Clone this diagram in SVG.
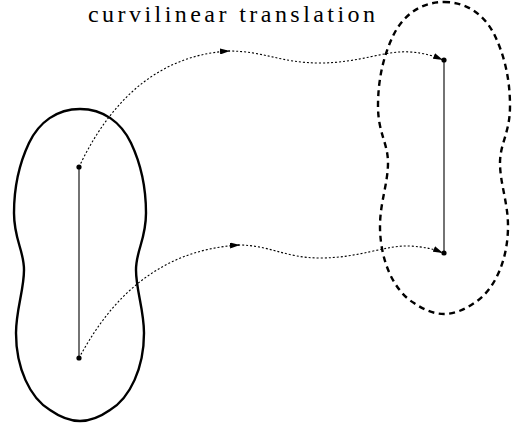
<svg xmlns="http://www.w3.org/2000/svg" width="513" height="427" viewBox="0 0 513 427">
<style>
.blob{fill:none;stroke:#000;stroke-width:2.4}
.dashed{stroke-dasharray:6 4.5}
.seg{stroke:#000;stroke-width:1.1}
.dot{fill:#000}
.conn{fill:none;stroke:#000;stroke-width:1.1;stroke-dasharray:2 2}
.title{font-family:"Liberation Serif","DejaVu Serif",serif;fill:#000}
</style>
<defs>
<marker id="arr" viewBox="0 0 10 6" refX="10" refY="3" markerWidth="10" markerHeight="6" markerUnits="userSpaceOnUse" orient="auto">
<path d="M0,0 L10,3 L0,6 Z" fill="#000"/>
</marker>
<path id="shape" d="M80,109 C103,109 121,122 131,143 C140,162 146,185 146,213 C146,240 136,250 136,270 C136,290 144,310 144,333 C144,368 130,398 110,410 C100,417 90,421 80,421 C70,421 60,417 50,410 C30,398 16,368 16,333 C16,310 24,290 24,270 C24,250 14,240 14,213 C14,185 20,162 29,143 C39,122 57,109 80,109 Z"/>
</defs>
<text class="title" x="88" y="21.5" font-size="24" textLength="287" lengthAdjust="spacing">curvilinear translation</text>
<g id="source">
<use href="#shape" class="blob"/>
<line class="seg" x1="79" y1="167" x2="79" y2="358"/>
<circle class="dot" cx="79" cy="167" r="2.6"/>
<circle class="dot" cx="79" cy="358" r="2.6"/>
</g>
<g id="target">
<use href="#shape" class="blob dashed" transform="translate(364,-107)"/>
<line class="seg" x1="444" y1="60" x2="444" y2="253"/>
<circle class="dot" cx="444" cy="60" r="2.6"/>
<circle class="dot" cx="444" cy="253" r="2.6"/>
</g>
<g id="connectors">
<path class="conn" marker-end="url(#arr)" d="M79,167 C105,112 150,55 230,51"/>
<path class="conn" marker-end="url(#arr)" d="M228,51 C265,51 280,63 320,63 C360,63 385,50 410,52 C425,53 434,56 443,60"/>
<path class="conn" marker-end="url(#arr)" d="M79,358 C105,310 150,250 240,245"/>
<path class="conn" marker-end="url(#arr)" d="M238,245 C270,245 285,258 320,258 C360,258 385,245 410,246 C425,247 434,249 443,253"/>
</g>
</svg>
